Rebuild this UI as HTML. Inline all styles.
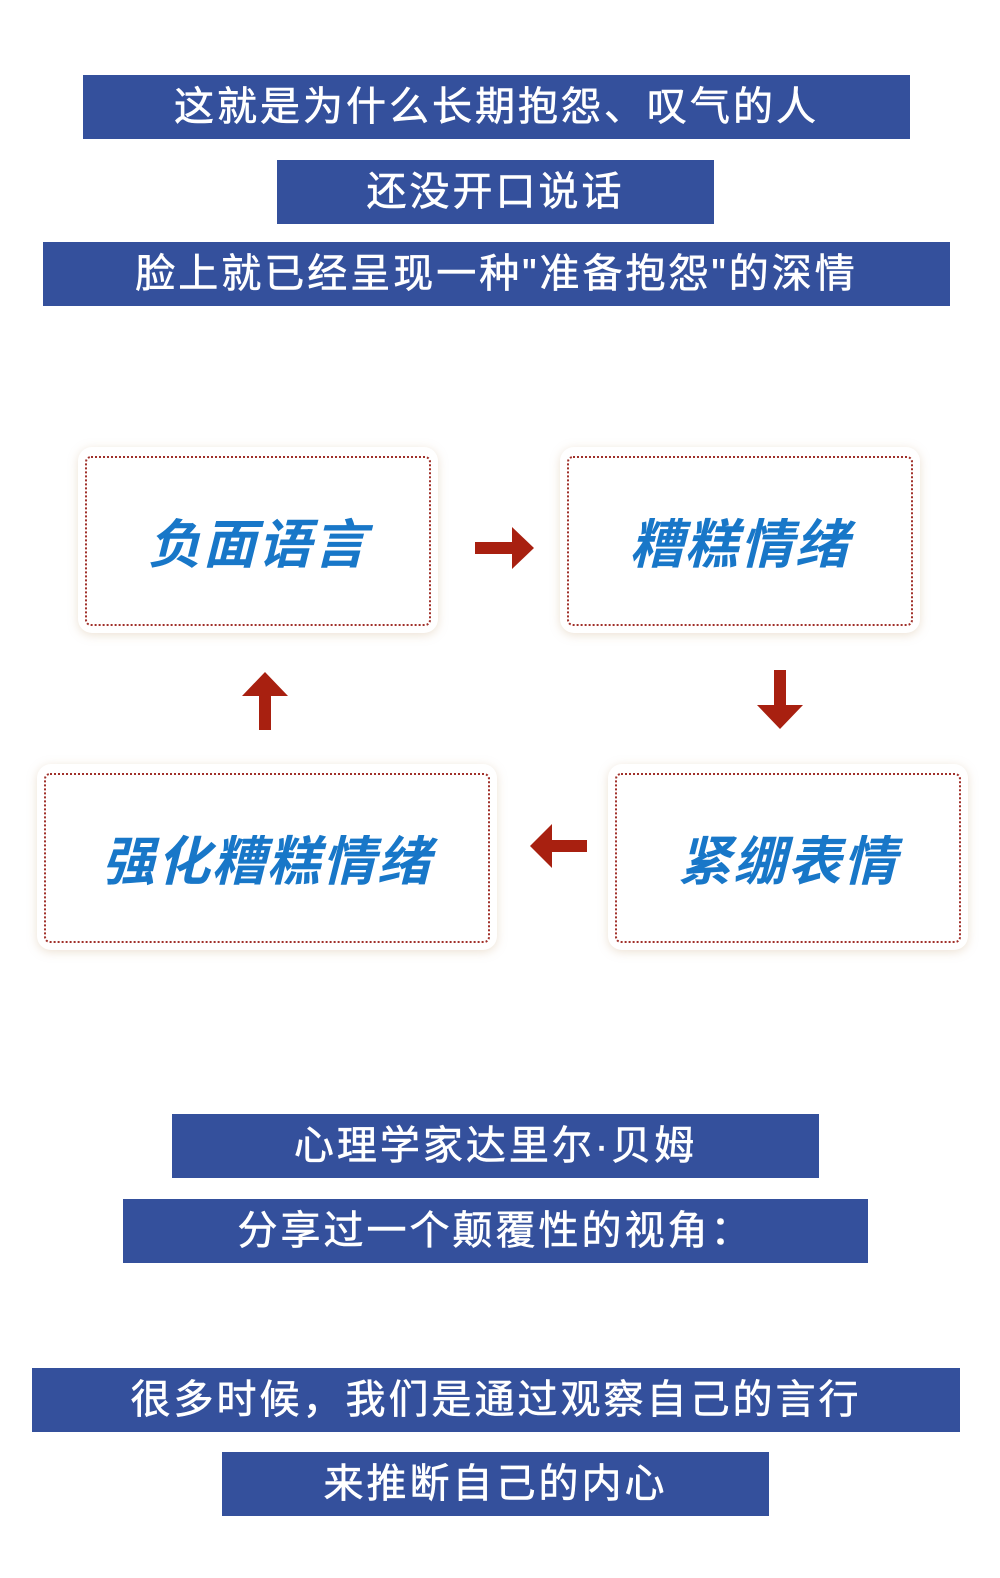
<!DOCTYPE html>
<html><head><meta charset="utf-8"><style>
body{margin:0;width:1000px;height:1578px;background:#fff;position:relative;overflow:hidden;font-family:"Liberation Sans","Noto Sans CJK SC",sans-serif}
.b{position:absolute;background:#34509c;color:#fff;font-size:40px;line-height:64px;height:64px;text-align:center;letter-spacing:3px;white-space:nowrap;-webkit-text-stroke:0.6px #fff}
.box{position:absolute;background:#fff;border-radius:14px;box-shadow:0 2px 10px rgba(200,170,130,.35)}
.box .in{position:absolute;left:7px;top:9px;right:7px;bottom:7px;border:2px dotted #a0302a;border-radius:6px;display:flex;align-items:center;justify-content:center;color:#1877c8;font-size:53px;font-weight:bold;font-style:italic;letter-spacing:2px}
svg{position:absolute;left:0;top:0}
</style></head><body>
<div class="b" style="left:83px;top:75px;width:827px">这就是为什么长期抱怨、叹气的人</div>
<div class="b" style="left:277px;top:160px;width:437px">还没开口说话</div>
<div class="b" style="left:43px;top:242px;width:907px">脸上就已经呈现一种"准备抱怨"的深情</div>

<div class="box" style="left:78px;top:447px;width:360px;height:186px"><div class="in">负面语言</div></div>
<div class="box" style="left:560px;top:447px;width:360px;height:186px"><div class="in">糟糕情绪</div></div>
<div class="box" style="left:37px;top:764px;width:460px;height:186px"><div class="in">强化糟糕情绪</div></div>
<div class="box" style="left:608px;top:764px;width:360px;height:186px"><div class="in">紧绷表情</div></div>

<svg width="1000" height="1578" fill="#a82010">
<polygon points="475,542 512,542 512,527 534,548 512,569 512,554 475,554"/>
<polygon points="774,670 786,670 786,705 803,705 780,729 757,705 774,705"/>
<polygon points="587,840 552,840 552,824 530,846 552,868 552,852 587,852"/>
<polygon points="259,730 271,730 271,696 288,696 265,672 242,696 259,696"/>
</svg>

<div class="b" style="left:172px;top:1114px;width:647px">心理学家达里尔·贝姆</div>
<div class="b" style="left:123px;top:1199px;width:745px">分享过一个颠覆性的视角：</div>
<div class="b" style="left:32px;top:1368px;width:928px">很多时候，我们是通过观察自己的言行</div>
<div class="b" style="left:222px;top:1452px;width:547px">来推断自己的内心</div>
</body></html>
